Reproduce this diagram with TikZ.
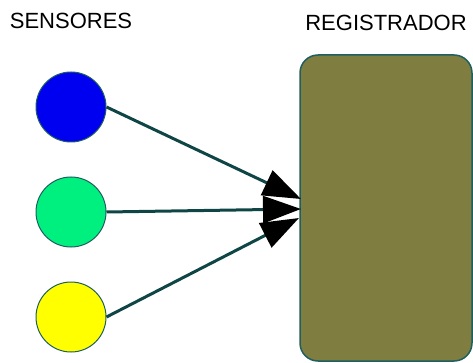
\documentclass[tikz,border=0pt]{standalone}
\usepackage{fontspec}
\setmainfont{Liberation Sans}
\usetikzlibrary{arrows.meta}
\definecolor{edgeteal}{HTML}{1F5F5F}
\definecolor{linkteal}{HTML}{0F4545}
\definecolor{olive}{HTML}{7F7D3F}
\definecolor{sblue}{HTML}{0000F0}
\definecolor{sgreen}{HTML}{00F080}
\definecolor{syellow}{HTML}{FFFF00}
\begin{document}
\begin{tikzpicture}[x=1pt,y=-1pt,
  sensor/.style={circle,draw=edgeteal,line width=1pt,minimum size=70pt,inner sep=0pt},
  reg/.style={draw=edgeteal,line width=1.5pt,fill=olive,rounded corners=18pt},
  link/.style={draw=linkteal,line width=3pt,-{Triangle[length=38pt,width=27pt,fill=black,color=black]}},
  title/.style={font=\fontsize{22}{24}\selectfont,inner sep=0pt}]
\useasboundingbox (0,0) rectangle (473,363);
\node[title] (t1) at (71,21) {SENSORES};
\node[title] (t2) at (386,23) {REGISTRADOR};
\draw[reg] (300,55) rectangle (472,361);
\coordinate (pa) at (301,199);
\coordinate (pb) at (301,209);
\coordinate (pc) at (299,218);
\node[sensor,fill=sblue] (s1) at (71,107) {};
\node[sensor,fill=sgreen] (s2) at (71,212) {};
\node[sensor,fill=syellow] (s3) at (71,317) {};
\draw[link] (s1.east) -- (pa);
\draw[link] (s2.east) -- (pb);
\draw[link] (s3.east) -- (pc);
\end{tikzpicture}
\end{document}
